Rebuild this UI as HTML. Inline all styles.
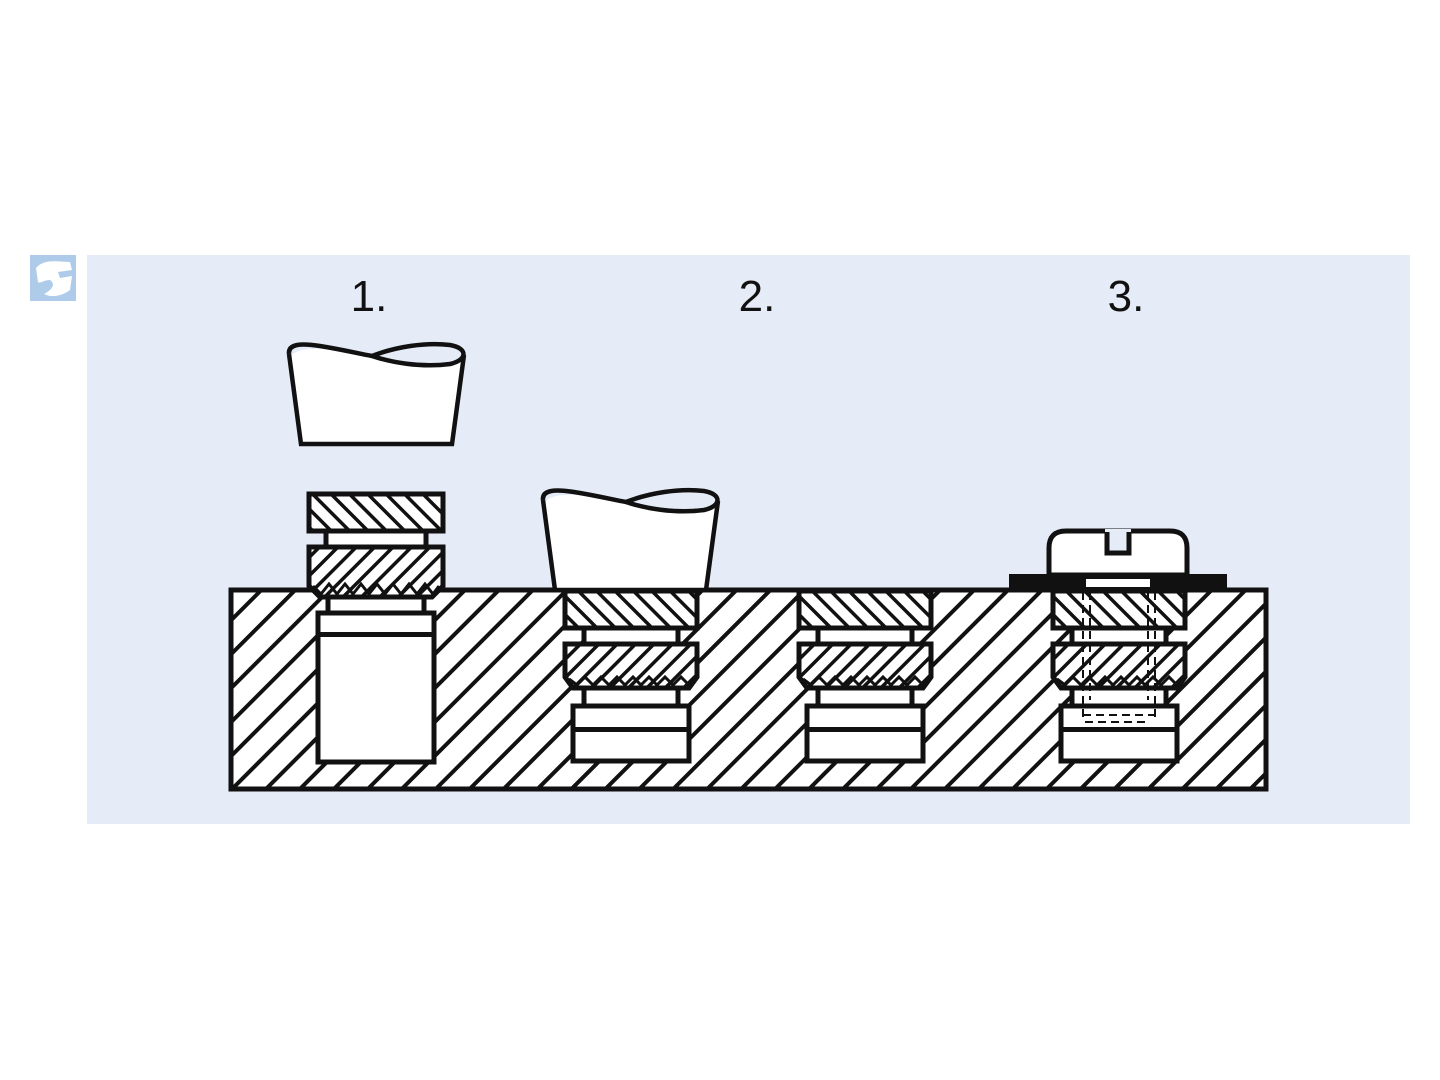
<!DOCTYPE html>
<html><head><meta charset="utf-8"><style>
html,body{margin:0;padding:0;background:#fff;}
svg{display:block;}
</style></head><body>
<svg width="1440" height="1080" viewBox="0 0 1440 1080" xmlns="http://www.w3.org/2000/svg">
<defs>
<pattern id="hb" width="24" height="24" patternUnits="userSpaceOnUse" patternTransform="rotate(45)">
<rect width="24" height="24" fill="#fff"/><rect x="0" y="0" width="4" height="24" fill="#111"/></pattern>
<pattern id="hc" width="13" height="13" patternUnits="userSpaceOnUse" patternTransform="rotate(-45)">
<rect width="13" height="13" fill="#fff"/><rect x="0" y="0" width="3.5" height="13" fill="#111"/></pattern>
<pattern id="hk" width="13" height="13" patternUnits="userSpaceOnUse" patternTransform="rotate(45)">
<rect width="13" height="13" fill="#fff"/><rect x="0" y="0" width="3.5" height="13" fill="#111"/></pattern>
<g id="tool">
<path d="M291,356 C300,345 330,348 372,357 C395,364 430,370 462,358 L451,442 L303,442 Z" fill="#fff"/>
<path d="M289,354 C288,344 300,343 320,346 C345,350 360,354 372,356 C390,362 420,368 450,364 C468,360 468,348 450,345 C425,342 395,347 372,356" fill="none" stroke="#111" stroke-width="4.5"/>
<path d="M289,354 L301,444 L452,444 L464,355" fill="none" stroke="#111" stroke-width="4.5"/>
</g>
<g id="ins">
<rect x="-66" y="0" width="132" height="37" fill="url(#hc)" stroke="#111" stroke-width="5"/>
<rect x="-47" y="37" width="94" height="16" fill="#fff" stroke="#111" stroke-width="5"/>
<path d="M-66,53 L66,53 L66,86 L58,97 L-58,97 L-66,86 Z" fill="url(#hk)" stroke="#111" stroke-width="5"/>
<polyline points="-62,88 -54,94 -46,86 -38,94 -30,86 -22,94 -14,86 -6,94 2,86 10,94 18,86 26,94 34,86 42,94 50,86 58,94 62,88" fill="none" stroke="#111" stroke-width="3"/>
<rect x="-47" y="97" width="94" height="18" fill="#fff" stroke="#111" stroke-width="5"/>
<rect x="-58" y="115" width="116" height="55" fill="#fff" stroke="#111" stroke-width="5"/>
<rect x="-56" y="136" width="112" height="5" fill="#111"/>
</g>
</defs>
<rect x="87" y="255" width="1323" height="569" fill="#e6ecf7"/>
<rect x="30" y="255" width="46" height="46" fill="#aecbea"/>
<path d="M36,268 C44,258 60,262 70,262 L72,270 L58,272 L60,278 L72,276 L70,290 C62,296 52,298 44,294 C52,290 56,284 50,280 C44,280 40,284 38,282 Z" fill="#fff"/>
<g font-family="Liberation Sans, sans-serif" font-size="44" fill="#111" text-anchor="middle">
<text x="369" y="311">1.</text><text x="757" y="311">2.</text><text x="1126" y="311">3.</text>
</g>
<use href="#tool"/>
<rect x="231" y="590" width="1035" height="199" fill="url(#hb)" stroke="#111" stroke-width="5"/>
<rect x="309" y="494" width="134" height="37" fill="url(#hc)" stroke="#111" stroke-width="5"/>
<rect x="326" y="531" width="100" height="16" fill="#fff" stroke="#111" stroke-width="5"/>
<path d="M309,547 L443,547 L443,586 L432,597 L320,597 L309,586 Z" fill="url(#hk)" stroke="#111" stroke-width="5"/>
<polyline points="313,586 321,594 329,584 337,594 345,584 353,594 361,584 369,594 377,584 385,594 393,584 401,594 409,584 417,594 425,584 433,594 439,586" fill="none" stroke="#111" stroke-width="3"/>
<rect x="328" y="597" width="96" height="16" fill="#fff" stroke="#111" stroke-width="5"/>
<rect x="318" y="613" width="116" height="149" fill="#fff" stroke="#111" stroke-width="5"/>
<rect x="320" y="632" width="112" height="5" fill="#111"/>
<g transform="translate(254,146)"><use href="#tool"/></g>
<use href="#ins" x="631" y="591"/>
<use href="#ins" x="865" y="591"/>
<use href="#ins" x="1119" y="591"/>
<path d="M1049,575 L1049,548 Q1049,531 1066,531 L1170,531 Q1187,531 1187,548 L1187,575 Z" fill="#fff" stroke="#111" stroke-width="5"/>
<path d="M1107,531 L1107,553 L1129,553 L1129,531" fill="#e6ecf7" stroke="#111" stroke-width="5"/>
<rect x="1105" y="529" width="26" height="3" fill="#e6ecf7"/>
<rect x="1009" y="574" width="218" height="16" fill="#111"/>
<rect x="1085" y="578" width="66" height="10" fill="#fff" stroke="#111" stroke-width="2"/>
<g stroke="#111" stroke-width="2" stroke-dasharray="8,5" fill="none">
<line x1="1083" y1="592" x2="1083" y2="720"/><line x1="1155" y1="592" x2="1155" y2="720"/>
<line x1="1090" y1="592" x2="1090" y2="700"/><line x1="1148" y1="592" x2="1148" y2="700"/>
<line x1="1083" y1="715" x2="1155" y2="715"/><line x1="1085" y1="722" x2="1150" y2="722"/>
</g>
</svg>
</body></html>
